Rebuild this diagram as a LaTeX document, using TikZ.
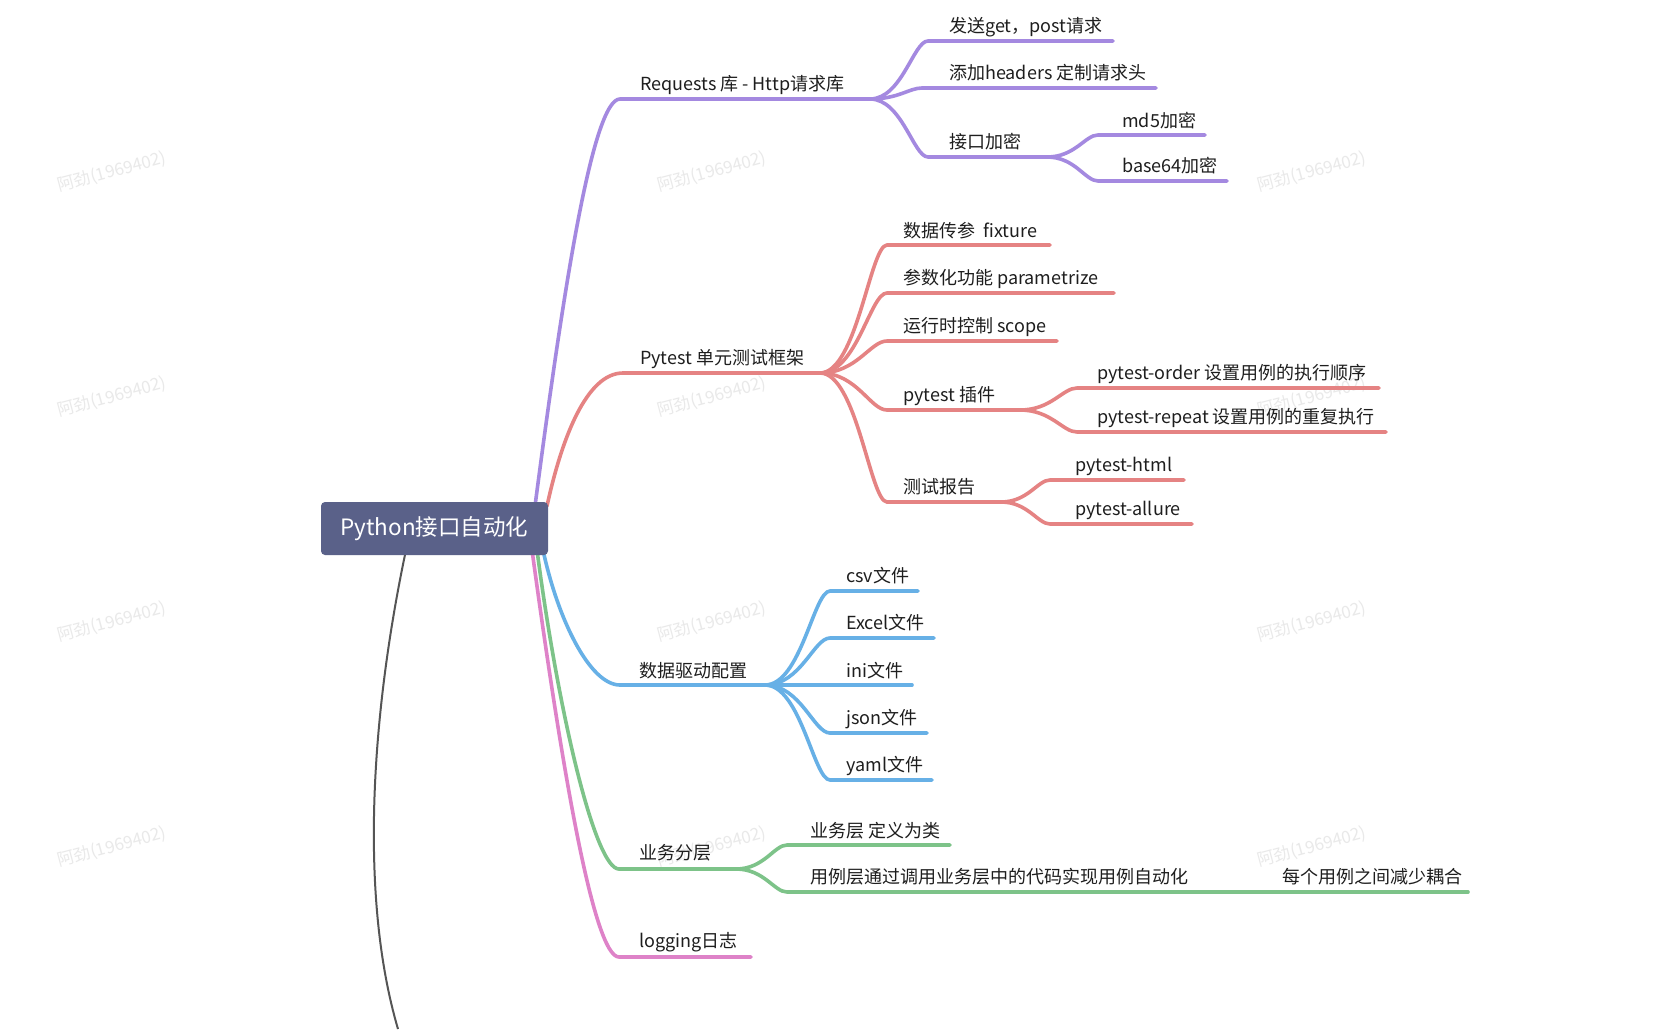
\documentclass[tikz,border=0pt]{standalone}
\usepackage{fontspec}
\setmainfont{Noto Sans CJK SC}
\usetikzlibrary{calc}

\definecolor{cPurple}{HTML}{A489E0}
\definecolor{cRed}{HTML}{E58383}
\definecolor{cBlue}{HTML}{67B0E6}
\definecolor{cGreen}{HTML}{7DC389}
\definecolor{cPink}{HTML}{DE82C8}
\definecolor{cGray}{HTML}{555555}
\definecolor{rootfill}{HTML}{5A6189}
\definecolor{txt}{HTML}{1E1E1E}
\definecolor{wmgray}{HTML}{E9E9E9}

% branch from a fork point #2 to the start #3 of an underline ending at #4
\newcommand{\childedge}[4]{%
  \draw[edge,#1] (#2) .. controls ($(#2)!0.55!(#2 -| #3)$) and ($(#3)!0.25!(#3 -| #2)$) .. (#3) -- (#4);}

\begin{document}
\begin{tikzpicture}[x=1pt,y=-1pt,
  lbl/.style={anchor=base west, inner sep=0pt, text=txt, font=\fontsize{18}{22}\selectfont},
  edge/.style={line width=3.6pt, line cap=round},
  wm/.style={text=wmgray, font=\fontsize{17}{20}\selectfont, rotate=15, inner sep=0pt},
  rootbox/.style={fill=rootfill, rounded corners=4pt, text=white,
    font=\fontsize{22.5}{26}\selectfont, minimum width=227pt, minimum height=53pt, inner sep=0pt}]

\fill[white] (0,0) rectangle (1680,1029);
\useasboundingbox (0,0) rectangle (1680,1029);

% watermark grid
\foreach \wx in {112,712,1312}
  \foreach \wy in {172,397,622,847}
    \node[wm] (wm-\wx-\wy) at (\wx,\wy) {阿劲(1969402)};

% ---------- coordinates ----------
% main branches
\coordinate (pS) at (535,506);  \coordinate (pH) at (620,99);  \coordinate (pB) at (870,99);
\coordinate (rS) at (547,506);  \coordinate (rH) at (623,373); \coordinate (rB) at (820,373);
\coordinate (bS) at (543,550);  \coordinate (bH) at (620,685); \coordinate (bB) at (765,685);
\coordinate (gS) at (537,550);  \coordinate (gH) at (619,869); \coordinate (gB) at (736,869);
\coordinate (kS) at (532,550);  \coordinate (kH) at (619,957); \coordinate (kE) at (751,957);
\coordinate (yS) at (406,550);  \coordinate (yE) at (398,1029);

% purple children
\coordinate (p1H) at (928,41);   \coordinate (p1E) at (1113,41);
\coordinate (p2H) at (922,88);   \coordinate (p2E) at (1156,88);
\coordinate (p3H) at (928,157);  \coordinate (p3B) at (1047,157);
\coordinate (p31H) at (1098,135); \coordinate (p31E) at (1205,135);
\coordinate (p32H) at (1098,181); \coordinate (p32E) at (1227,181);

% red children
\coordinate (r1H) at (887,245);  \coordinate (r1E) at (1050,245);
\coordinate (r2H) at (887,293);  \coordinate (r2E) at (1114,293);
\coordinate (r3H) at (887,341);  \coordinate (r3E) at (1057,341);
\coordinate (r4H) at (887,410);  \coordinate (r4B) at (1020,410);
\coordinate (r41H) at (1077,388); \coordinate (r41E) at (1379,388);
\coordinate (r42H) at (1077,432); \coordinate (r42E) at (1386,432);
\coordinate (r5H) at (887,502);  \coordinate (r5B) at (1001,502);
\coordinate (r51H) at (1050,480); \coordinate (r51E) at (1184,480);
\coordinate (r52H) at (1050,524); \coordinate (r52E) at (1192,524);

% blue children
\coordinate (b1H) at (830,591);  \coordinate (b1E) at (918,591);
\coordinate (b2H) at (830,638);  \coordinate (b2E) at (934,638);
\coordinate (b3H) at (830,685);  \coordinate (b3E) at (912,685);
\coordinate (b4H) at (830,733);  \coordinate (b4E) at (927,733);
\coordinate (b5H) at (830,780);  \coordinate (b5E) at (932,780);

% green children
\coordinate (g1H) at (787,845);  \coordinate (g1E) at (950,845);
\coordinate (g2H) at (787,892);  \coordinate (g2B) at (1190,892);
\coordinate (g21E) at (1468,892);

% ---------- main branches ----------
\draw[cGray, line width=2pt] (yS) .. controls (370,720) and (360,900) .. (yE);
\draw[edge,cPurple] (pS) .. controls (562,300) and (592,99) .. (pH) -- (pB);
\draw[edge,cRed]    (rS) .. controls (562,437) and (587,373) .. (rH) -- (rB);
\draw[edge,cBlue]   (bS) .. controls (558,620) and (590,685) .. (bH) -- (bB);
\draw[edge,cGreen]  (gS) .. controls (558,711) and (595,869) .. (gH) -- (gB);
\draw[edge,cPink]   (kS) .. controls (560,755) and (593,957) .. (kH) -- (kE);

% ---------- sub branches ----------
\childedge{cPurple}{pB}{p1H}{p1E}
\childedge{cPurple}{pB}{p2H}{p2E}
\childedge{cPurple}{pB}{p3H}{p3B}
\childedge{cPurple}{p3B}{p31H}{p31E}
\childedge{cPurple}{p3B}{p32H}{p32E}

\childedge{cRed}{rB}{r1H}{r1E}
\childedge{cRed}{rB}{r2H}{r2E}
\childedge{cRed}{rB}{r3H}{r3E}
\childedge{cRed}{rB}{r4H}{r4B}
\childedge{cRed}{rB}{r5H}{r5B}
\childedge{cRed}{r4B}{r41H}{r41E}
\childedge{cRed}{r4B}{r42H}{r42E}
\childedge{cRed}{r5B}{r51H}{r51E}
\childedge{cRed}{r5B}{r52H}{r52E}

\childedge{cBlue}{bB}{b1H}{b1E}
\childedge{cBlue}{bB}{b2H}{b2E}
\childedge{cBlue}{bB}{b3H}{b3E}
\childedge{cBlue}{bB}{b4H}{b4E}
\childedge{cBlue}{bB}{b5H}{b5E}

\childedge{cGreen}{gB}{g1H}{g1E}
\childedge{cGreen}{gB}{g2H}{g2B}
\draw[edge,cGreen] (g2B) -- (g21E);

% ---------- root ----------
\node[rootbox] (root) at (434.5,528.5) {Python接口自动化};

% ---------- labels ----------
\node[lbl] (tP)   at (640,90)   {Requests 库 - Http请求库};
\node[lbl] (tP1)  at (949,32)   {发送get，post请求};
\node[lbl] (tP2)  at (949,79)   {添加headers 定制请求头};
\node[lbl] (tP3)  at (949,148)  {接口加密};
\node[lbl] (tP31) at (1122,127) {md5加密};
\node[lbl] (tP32) at (1122,172) {base64加密};

\node[lbl] (tR)   at (640,364)  {Pytest 单元测试框架};
\node[lbl] (tR1)  at (903,237)  {数据传参\ \ fixture};
\node[lbl] (tR2)  at (903,284)  {参数化功能 parametrize};
\node[lbl] (tR3)  at (903,332)  {运行时控制 scope};
\node[lbl] (tR4)  at (903,401)  {pytest 插件};
\node[lbl] (tR41) at (1097,379) {pytest-order 设置用例的执行顺序};
\node[lbl] (tR42) at (1097,423) {pytest-repeat 设置用例的重复执行};
\node[lbl] (tR5)  at (903,493)  {测试报告};
\node[lbl] (tR51) at (1075,471) {pytest-html};
\node[lbl] (tR52) at (1075,515) {pytest-allure};

\node[lbl] (tB)   at (639,677)  {数据驱动配置};
\node[lbl] (tB1)  at (846,582)  {csv文件};
\node[lbl] (tB2)  at (846,629)  {Excel文件};
\node[lbl] (tB3)  at (846,677)  {ini文件};
\node[lbl] (tB4)  at (846,724)  {json文件};
\node[lbl] (tB5)  at (846,771)  {yaml文件};

\node[lbl] (tG)   at (639,859)  {业务分层};
\node[lbl] (tG1)  at (810,837)  {业务层 定义为类};
\node[lbl] (tG2)  at (810,883)  {用例层通过调用业务层中的代码实现用例自动化};
\node[lbl] (tG21) at (1282,883) {每个用例之间减少耦合};

\node[lbl] (tK)   at (639,947)  {logging日志};
\end{tikzpicture}
\end{document}
